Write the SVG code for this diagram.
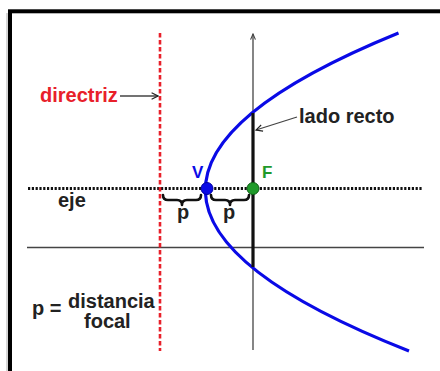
<svg xmlns="http://www.w3.org/2000/svg" width="440" height="371" viewBox="0 0 440 371">
<defs>
<marker id="open" viewBox="0 0 10 10" refX="9" refY="5" markerWidth="8" markerHeight="8" markerUnits="userSpaceOnUse" orient="auto">
<path d="M1,1 L9,5 L1,9" fill="none" stroke="#222" stroke-width="1.4"/>
</marker>
<marker id="tip" viewBox="0 0 10 10" refX="9" refY="5" markerWidth="7" markerHeight="7" markerUnits="userSpaceOnUse" orient="auto">
<path d="M1,1.5 L9,5 L1,8.5" fill="none" stroke="#444" stroke-width="1.6"/>
</marker>
</defs>
<style>
.t{font-family:"Liberation Sans",Arial,sans-serif;font-weight:bold;font-size:20px;fill:#222}
.thin{stroke:#444;stroke-width:1.3;fill:none}
.brace{stroke:#111;stroke-width:2.6;fill:none;stroke-linecap:round;stroke-linejoin:round}
</style>
<rect width="440" height="371" fill="#fff"/>
<rect x="10" y="11.3" width="460" height="400" fill="none" stroke="#000" stroke-width="4"/>
<line x1="7" y1="13" x2="7" y2="371" stroke="#bbb" stroke-width="1.2"/>

<g id="axes">
<line class="thin" x1="27" y1="247.5" x2="424" y2="247.5"/>
<line class="thin" x1="253" y1="350" x2="253" y2="34" marker-end="url(#tip)"/>
</g>

<g id="eje">
<line x1="28" y1="188.5" x2="422" y2="188.5" stroke="#111" stroke-width="3" stroke-dasharray="2.2 1.6"/>
<text class="t" x="58" y="207">eje</text>
</g>

<g id="directriz">
<line x1="160" y1="33" x2="160" y2="351" stroke="#e8202a" stroke-width="2.6" stroke-dasharray="4.5 2.5"/>
<text class="t" x="40" y="101.5" style="fill:#e8202a">directriz</text>
</g>

<g id="parabola">
<path d="M398.5,33 Q7,192.5 409,351" fill="none" stroke="#0a0ae6" stroke-width="3.2"/>
</g>

<g id="lado-recto">
<line x1="253" y1="113" x2="253" y2="267" stroke="#111" stroke-width="3.2"/>
<text class="t" x="299" y="122.5">lado recto</text>
</g>

<g id="braces">
<path class="brace" d="M163,195 Q163,200 168,200 L177,200 Q182,200 182,205 Q182,200 187,200 L196,200 Q201,200 201,195"/>
<path class="brace" d="M211,195 Q211,200 216,200 L225,200 Q230,200 230,205 Q230,200 235,200 L244,200 Q249,200 249,195"/>
<text class="t" x="183" y="219" text-anchor="middle">p</text>
<text class="t" x="229" y="219" text-anchor="middle">p</text>
</g>

<g id="V">
<circle cx="207" cy="188.5" r="6" fill="#0a0ae6" stroke="#0000a0" stroke-width="1"/>
<text class="t" x="192" y="178" style="fill:#0a0ae6;font-size:17px">V</text>
</g>

<g id="F">
<circle cx="253" cy="188.5" r="6" fill="#1f9a2a" stroke="#0d5e14" stroke-width="1"/>
<text class="t" x="262" y="178" style="fill:#1f9a2a;font-size:17px">F</text>
</g>

<g id="legend">
<text class="t" x="32" y="315">p =</text>
<text class="t" x="68" y="308">distancia</text>
<text class="t" x="84" y="328">focal</text>
</g>

<g id="connectors">
<line class="thin" x1="120" y1="96" x2="158" y2="96" marker-end="url(#open)"/>
<line class="thin" x1="297" y1="117" x2="256" y2="130" marker-end="url(#open)"/>
</g>
</svg>
